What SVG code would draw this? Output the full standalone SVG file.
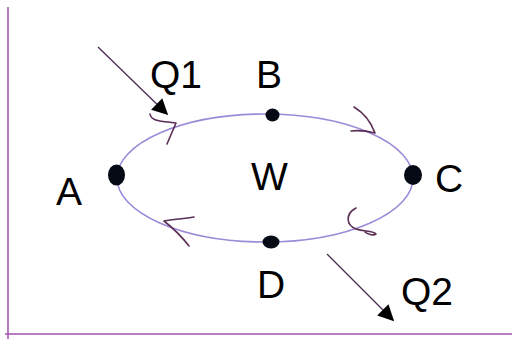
<svg xmlns="http://www.w3.org/2000/svg" width="512" height="340" viewBox="0 0 512 340">
<style>
.lbl{font-family:"Liberation Sans",Arial,sans-serif;font-size:39px;fill:#000}
.axis{stroke:#a050b0;stroke-width:1.5;fill:none}
.cyc{stroke:#9c8ad8;stroke-width:1.6;fill:none}
.head{stroke:#5a2e55;stroke-width:1.6;fill:none;stroke-linecap:round;stroke-linejoin:round}
.q{stroke:#4a2a55;stroke-width:1.3;fill:none}
.dot{fill:#050a15}
</style>
<defs>
<marker id="tri2" viewBox="0 0 10 10" refX="9" refY="5" markerWidth="18" markerHeight="16" orient="auto" markerUnits="userSpaceOnUse">
<path d="M0,0 L10,5 L0,10 z" fill="#000"/>
</marker>
</defs>
<g id="axes">
<line class="axis" x1="8" y1="7" x2="8" y2="339"/>
<line class="axis" x1="5" y1="334" x2="512" y2="334"/>
</g>
<g id="connectors">
<ellipse class="cyc" cx="265" cy="178" rx="148" ry="64"/>
<path class="head" d="M150,114 C151,121 160,121 176,123 C173,130 170,137 167,144"/>
<path class="head" d="M354,107 C364,113 371,122 375,133 C367,131 360,130 351,131"/>
<path class="head" d="M356,208 C345,214 346,225 356,229 C364,232 372,230 376,234 C373,236 367,234 365,232"/>
<path class="head" d="M194,217 C183,219 173,219 164,221 C173,228 182,237 189,246"/>
<line class="q" x1="98" y1="47" x2="167" y2="114" marker-end="url(#tri2)"/>
<line class="q" x1="327" y1="254" x2="393" y2="320" marker-end="url(#tri2)"/>
</g>
<g id="A"><ellipse class="dot" cx="116.5" cy="175" rx="8.5" ry="10.5"/><text class="lbl" x="56" y="205">A</text></g>
<g id="B"><ellipse class="dot" cx="272.5" cy="115" rx="7" ry="6.5"/><text class="lbl" x="256" y="88">B</text></g>
<g id="C"><ellipse class="dot" cx="413" cy="175" rx="9" ry="10"/><text class="lbl" x="435" y="192">C</text></g>
<g id="D"><ellipse class="dot" cx="271" cy="242" rx="8.5" ry="6.5"/><text class="lbl" x="257" y="298">D</text></g>
<g id="W"><text class="lbl" x="251" y="190">W</text></g>
<g id="Q1"><text class="lbl" x="150" y="88">Q1</text></g>
<g id="Q2"><text class="lbl" x="401" y="305">Q2</text></g>
</svg>
